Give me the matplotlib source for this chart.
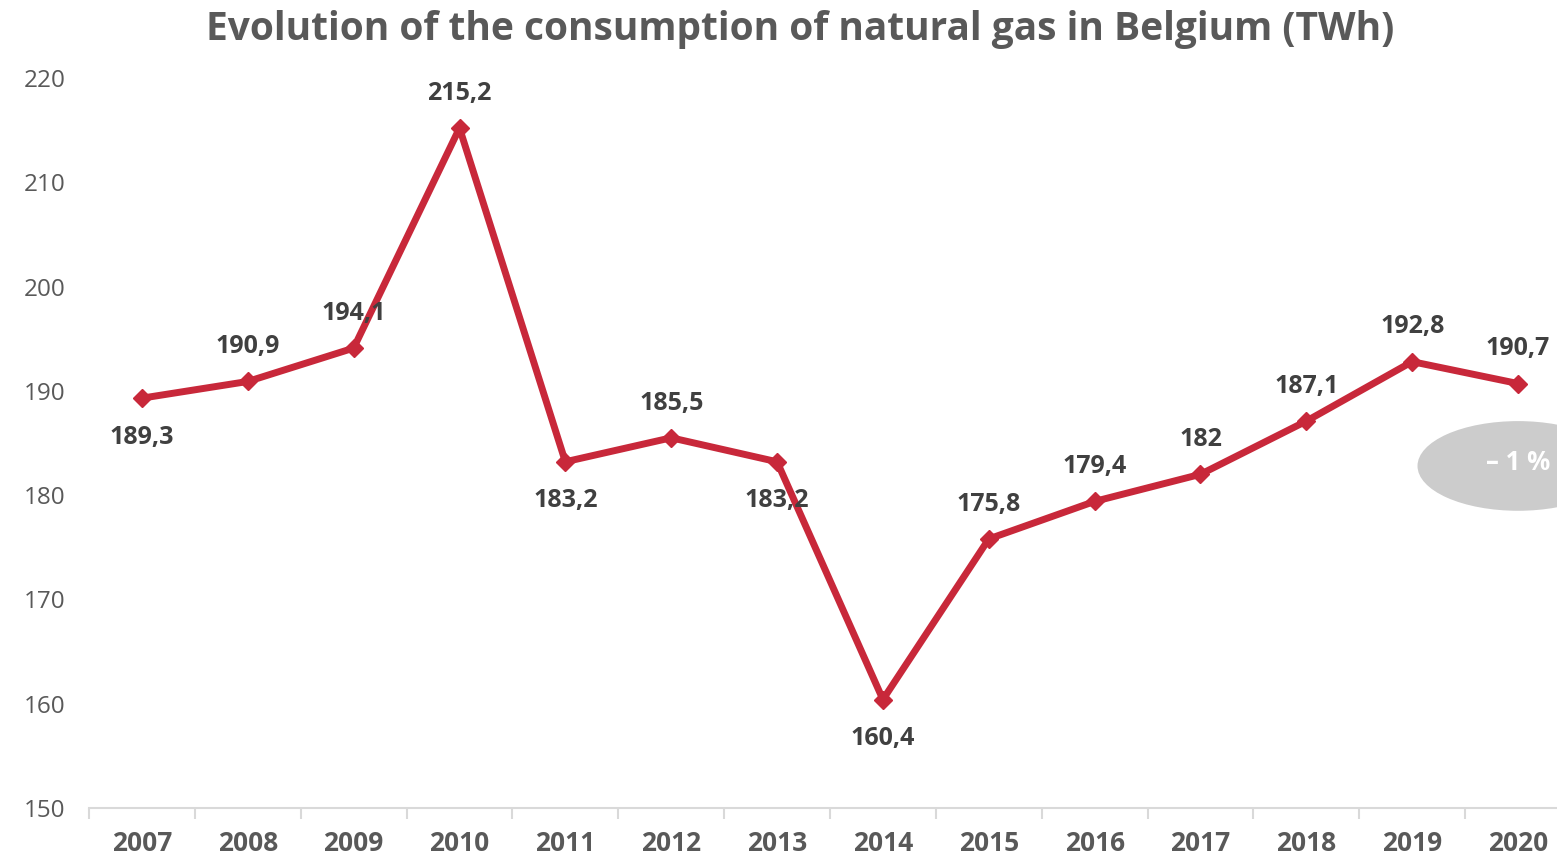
import matplotlib.pyplot as plt
from matplotlib.patches import Ellipse

years = ["2007", "2008", "2009", "2010", "2011", "2012", "2013",
         "2014", "2015", "2016", "2017", "2018", "2019", "2020"]
values = [189.3, 190.9, 194.1, 215.2, 183.2, 185.5, 183.2,
          160.4, 175.8, 179.4, 182.0, 187.1, 192.8, 190.7]
labels = ["189,3", "190,9", "194,1", "215,2", "183,2", "185,5", "183,2",
          "160,4", "175,8", "179,4", "182", "187,1", "192,8", "190,7"]
# label above (+1) or below (-1) the point
side = [-1, 1, 1, 1, -1, 1, -1, -1, 1, 1, 1, 1, 1, 1]
yticks = [150, 160, 170, 180, 190, 200, 210, 220]

plt.rcParams['font.family'] = ['Open Sans', 'DejaVu Sans']

fig = plt.figure(figsize=(15.57, 8.56), dpi=100)
# axes slightly wider than the figure, like the original cut-off
ax = fig.add_axes([89 / 1557, 1 - 808 / 856, (1571 - 89) / 1557, (808 - 78) / 856])

x = list(range(len(years)))
ax.plot(x, values, color="#C8283A", lw=5, marker="D", ms=9,
        markerfacecolor="#C8283A", markeredgecolor="#C8283A", zorder=3)

for i, (v, lab, s) in enumerate(zip(values, labels, side)):
    off = 25 if s > 0 else -28
    ax.annotate(lab, (i, v), xytext=(0, off), textcoords="offset points",
                ha="center", va="center", fontsize=18, fontweight="bold",
                color="#404040", zorder=4)

ax.set_xlim(-0.5, len(years) - 0.5)
ax.set_ylim(150, 220)
ax.set_yticks(yticks)
ax.set_yticklabels([str(t) for t in yticks], fontsize=17.5, color="#595959")
ax.set_xticks(x)
ax.set_xticklabels(years, fontsize=19, fontweight="bold", color="#595959")
ax.tick_params(axis="x", length=0, pad=16)
ax.tick_params(axis="y", length=0, pad=17)

# minor ticks at category boundaries
ax.set_xticks([i - 0.5 for i in range(len(years) + 1)], minor=True)
ax.tick_params(axis="x", which="minor", length=8, direction="out",
               color="#D9D9D9", width=1.5)

for sp in ["top", "right", "left"]:
    ax.spines[sp].set_visible(False)
ax.spines["bottom"].set_color("#D9D9D9")
ax.spines["bottom"].set_linewidth(1.5)

# grey ellipse with the change
ell = Ellipse((13, 182.8), width=1.9, height=8.6, facecolor="#CCCCCC",
              edgecolor="none", zorder=2, clip_on=False)
ax.add_patch(ell)
ax.text(13, 183.1, "– 1 %", ha="center", va="center", fontsize=18.5,
        fontweight="bold", color="white", zorder=3)

fig.text(0.514, 0.966, "Evolution of the consumption of natural gas in Belgium (TWh)",
         ha="center", va="center", fontsize=28, fontweight="bold", color="#595959")

fig.savefig("out.png", dpi=100)
